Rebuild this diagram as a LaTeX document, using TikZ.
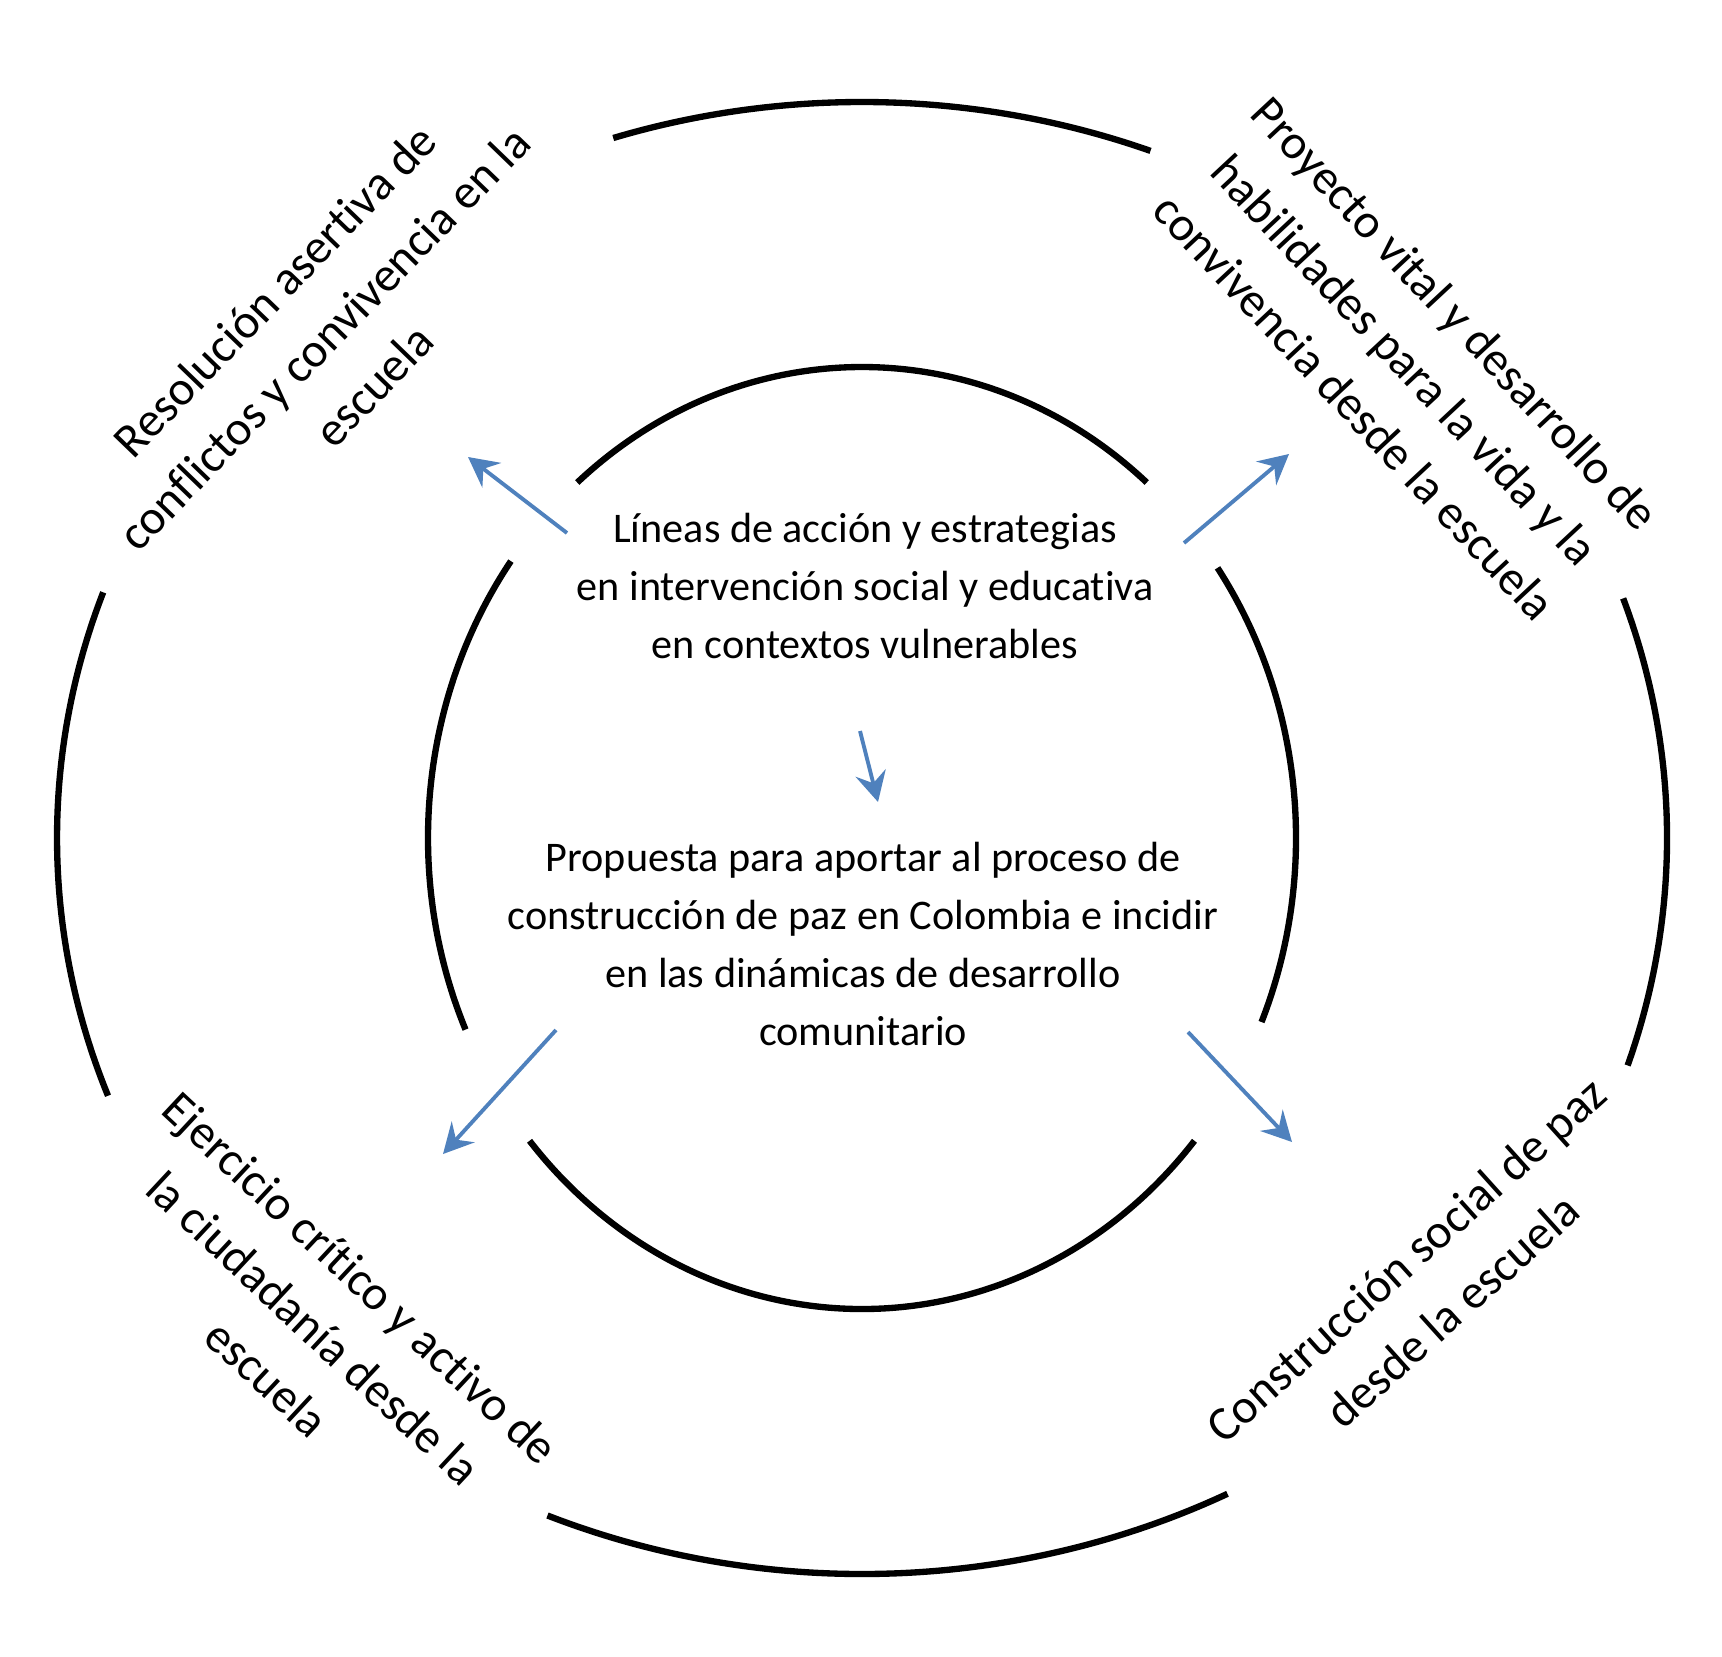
\documentclass[tikz,border=0pt]{standalone}
\usepackage{fontspec}
\setmainfont{Carlito}[Ligatures=NoCommon]
\usepackage{tikz}
\usetikzlibrary{arrows.meta}
\definecolor{arrowColor}{RGB}{79,129,189}
\tikzstyle{ringLine} = [color=black, line width=1.8pt]
\tikzstyle{flowArrow} = [color=arrowColor, line width=1.1pt, -{Stealth[length=8.5pt, width=8.8pt, inset=3pt]}]
\tikzstyle{centerText} = [align=center, inner sep=0pt, font=\fontsize{12}{16.5}\selectfont]
\tikzstyle{ringText} = [align=center, inner sep=0pt, font=\fontsize{13.8}{19.5}\selectfont]
\newcommand{\ringArc}[5]{\draw [ringLine] (#1) ++(#2:#4 and #5) arc [start angle=#2, end angle=#3, x radius=#4, y radius=#5];}

\begin{document}
\begin{tikzpicture}[x=0.01cm, y=0.01cm]
    \useasboundingbox (0,0) rectangle (1722,1656);
    \coordinate (ringCenter) at (862,818);
    % outer ring
    \foreach \startAngle/\endAngle in {69/108, 160.5/200.5, 247/297, -18/19} {
      \ringArc{ringCenter}{\startAngle}{\endAngle}{805}{736}
    }
    % inner ring
    \foreach \startAngle/\endAngle in {49/131, 144/204, 220/320, -23/35} {
      \ringArc{ringCenter}{\startAngle}{\endAngle}{434}{471}
    }
    \node [centerText] (lineasText) at (865,1070) {L\'ineas de acci\'on y estrategias\\en intervenci\'on social y educativa\\en contextos vulnerables};
    \node [centerText] (propuestaText) at (863,712) {Propuesta para aportar al proceso de\\construcci\'on de paz en Colombia e incidir\\en las din\'amicas de desarrollo\\comunitario};
    \node [ringText, rotate=46] (resolucionText) at (324,1318) {Resoluci\'on asertiva de\\conflictos y convivencia en la\\escuela};
    \node [ringText, rotate=-47] (proyectoText) at (1405,1296) {Proyecto vital y desarrollo de\\habilidades para la vida y la\\convivencia desde la escuela};
    \node [ringText, rotate=-43] (ejercicioText) at (314,328) {Ejercicio cr\'itico y activo de\\la ciudadan\'ia desde la\\escuela};
    \node [ringText, rotate=42] (construccionText) at (1429,371) {Construcci\'on social de paz\\desde la escuela};
    % arrows
    \coordinate (resolucionStart) at (567,1123);
    \coordinate (resolucionEnd) at (468,1199);
    \coordinate (proyectoStart) at (1184,1113);
    \coordinate (proyectoEnd) at (1289,1202);
    \coordinate (propuestaStart) at (860,925);
    \coordinate (propuestaEnd) at (878,854);
    \coordinate (ejercicioStart) at (556,626);
    \coordinate (ejercicioEnd) at (443,502);
    \coordinate (construccionStart) at (1188,624);
    \coordinate (construccionEnd) at (1292,514);
    \draw [flowArrow] (resolucionStart) -- (resolucionEnd);
    \draw [flowArrow] (proyectoStart) -- (proyectoEnd);
    \draw [flowArrow] (propuestaStart) -- (propuestaEnd);
    \draw [flowArrow] (ejercicioStart) -- (ejercicioEnd);
    \draw [flowArrow] (construccionStart) -- (construccionEnd);
\end{tikzpicture}
\end{document}
